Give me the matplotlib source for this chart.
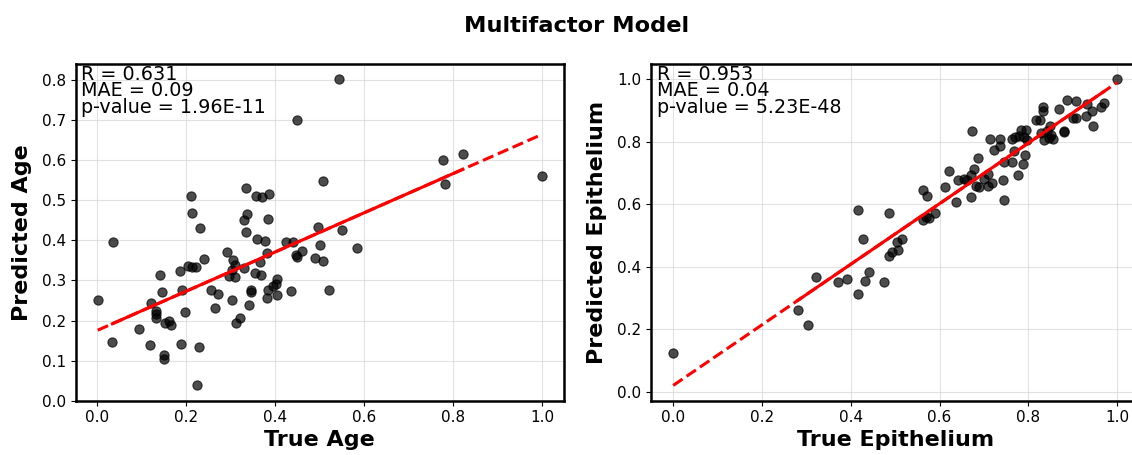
import numpy as np
import matplotlib
matplotlib.use("Agg")
import matplotlib.pyplot as plt

# --- data ---
age_true = [0.001, 0.034, 0.035, 0.093, 0.118, 0.121, 0.132, 0.132, 0.133, 0.141,
            0.146, 0.149, 0.151, 0.152, 0.162, 0.166, 0.186, 0.188, 0.191, 0.197,
            0.203, 0.210, 0.212, 0.212, 0.221, 0.224, 0.228, 0.230, 0.241, 0.255,
            0.264, 0.272, 0.292, 0.297, 0.302, 0.304, 0.306, 0.309, 0.310, 0.311,
            0.321, 0.330, 0.331, 0.334, 0.335, 0.336, 0.341, 0.345, 0.345, 0.354,
            0.356, 0.359, 0.365, 0.368, 0.371, 0.377, 0.381, 0.382, 0.383, 0.384,
            0.387, 0.396, 0.401, 0.403, 0.404, 0.425, 0.436, 0.440, 0.447, 0.450,
            0.450, 0.461, 0.489, 0.496, 0.500, 0.507, 0.507, 0.522, 0.543, 0.551,
            0.585, 0.777, 0.781, 0.822, 0.999]
age_pred = [0.251, 0.147, 0.397, 0.179, 0.140, 0.243, 0.223, 0.216, 0.207, 0.313,
            0.270, 0.115, 0.103, 0.193, 0.198, 0.189, 0.323, 0.141, 0.275, 0.222,
            0.337, 0.512, 0.468, 0.334, 0.333, 0.038, 0.133, 0.430, 0.354, 0.277,
            0.232, 0.267, 0.372, 0.310, 0.327, 0.251, 0.350, 0.339, 0.308, 0.194,
            0.207, 0.451, 0.331, 0.530, 0.420, 0.466, 0.238, 0.275, 0.272, 0.318,
            0.510, 0.403, 0.345, 0.313, 0.508, 0.398, 0.256, 0.369, 0.277, 0.454,
            0.517, 0.287, 0.292, 0.263, 0.303, 0.397, 0.274, 0.397, 0.364, 0.700,
            0.358, 0.374, 0.356, 0.433, 0.388, 0.549, 0.349, 0.275, 0.802, 0.427,
            0.380, 0.601, 0.540, 0.616, 0.561]

epi_true = [0.000, 0.281, 0.304, 0.322, 0.371, 0.391, 0.416, 0.428, 0.440, 0.432,
            0.416, 0.475, 0.487, 0.487, 0.493, 0.506, 0.505, 0.516, 0.563, 0.572,
            0.563, 0.569, 0.576, 0.589, 0.612, 0.622, 0.637, 0.642, 0.655, 0.661,
            0.670, 0.670, 0.677, 0.673, 0.687, 0.681, 0.689, 0.699, 0.709, 0.710,
            0.719, 0.713, 0.737, 0.723, 0.735, 0.742, 0.746, 0.745, 0.763, 0.767,
            0.777, 0.787, 0.793, 0.762, 0.769, 0.780, 0.784, 0.795, 0.791, 0.798,
            0.817, 0.827, 0.833, 0.833, 0.829, 0.835, 0.841, 0.848, 0.850, 0.855,
            0.847, 0.880, 0.880, 0.869, 0.886, 0.907, 0.900, 0.907, 0.929, 0.944,
            0.946, 0.933, 0.963, 0.970, 1.000]
epi_pred = [0.123, 0.261, 0.212, 0.366, 0.350, 0.360, 0.580, 0.488, 0.383, 0.355,
            0.314, 0.350, 0.571, 0.434, 0.446, 0.453, 0.479, 0.489, 0.647, 0.627,
            0.550, 0.558, 0.555, 0.571, 0.655, 0.708, 0.608, 0.678, 0.682, 0.679,
            0.622, 0.695, 0.713, 0.834, 0.748, 0.657, 0.654, 0.681, 0.659, 0.698,
            0.668, 0.810, 0.810, 0.774, 0.786, 0.678, 0.612, 0.734, 0.734, 0.772,
            0.695, 0.730, 0.757, 0.810, 0.814, 0.818, 0.837, 0.837, 0.816, 0.807,
            0.869, 0.869, 0.912, 0.898, 0.829, 0.807, 0.834, 0.850, 0.823, 0.810,
            0.813, 0.834, 0.830, 0.904, 0.933, 0.930, 0.877, 0.877, 0.882, 0.898,
            0.852, 0.920, 0.912, 0.925, 1.000]

panels = [
    (age_true, age_pred, "True Age", "Predicted Age",
     "R = 0.631\nMAE = 0.09\np-value = 1.96E-11"),
    (epi_true, epi_pred, "True Epithelium", "Predicted Epithelium",
     "R = 0.953\nMAE = 0.04\np-value = 5.23E-48"),
]

fig = plt.figure(figsize=(11.32, 4.55), dpi=100)
# right panel runs slightly past the figure edge, as in the reference crop
ax_left = fig.add_axes([0.0667, 0.1193, 0.4314, 0.740])
ax_right = fig.add_axes([0.5751, 0.1193, 0.4314, 0.740])

for ax, (xt, yp, xlab, ylab, stats) in zip([ax_left, ax_right], panels):
    xt = np.array(xt)
    yp = np.array(yp)
    ax.scatter(xt, yp, s=44, color="black", alpha=0.7, edgecolors="black",
               linewidths=0.8, zorder=3)

    slope, icpt = np.polyfit(xt, yp, 1)
    xs = np.sort(xt)
    # dashed over full range, solid inside the inner points
    xx = np.array([xs[0], xs[-1]])
    ax.plot(xx, slope * xx + icpt, color="red", lw=2.2, ls="--", zorder=4)
    xx = np.array([xs[1], xs[-2]])
    ax.plot(xx, slope * xx + icpt, color="red", lw=2.2, zorder=5)

    ax.text(0.012, 0.998, stats, transform=ax.transAxes, va="top", ha="left",
            fontsize=13.8, linespacing=0.85, zorder=6)

    ax.set_xlabel(xlab, fontsize=16, fontweight="bold", labelpad=3)
    ax.set_ylabel(ylab, fontsize=16, fontweight="bold", labelpad=7)
    ax.tick_params(labelsize=11)
    ax.grid(True, color="#d0d0d0", alpha=0.6, linewidth=0.8)
    ax.set_axisbelow(True)
    for sp in ax.spines.values():
        sp.set_linewidth(1.8)

ax_right.set_yticks([0.0, 0.2, 0.4, 0.6, 0.8, 1.0])

fig.suptitle("Multifactor Model", fontsize=16.2, fontweight="bold", x=0.509, y=0.965)

fig.savefig("out.png", dpi=100)
